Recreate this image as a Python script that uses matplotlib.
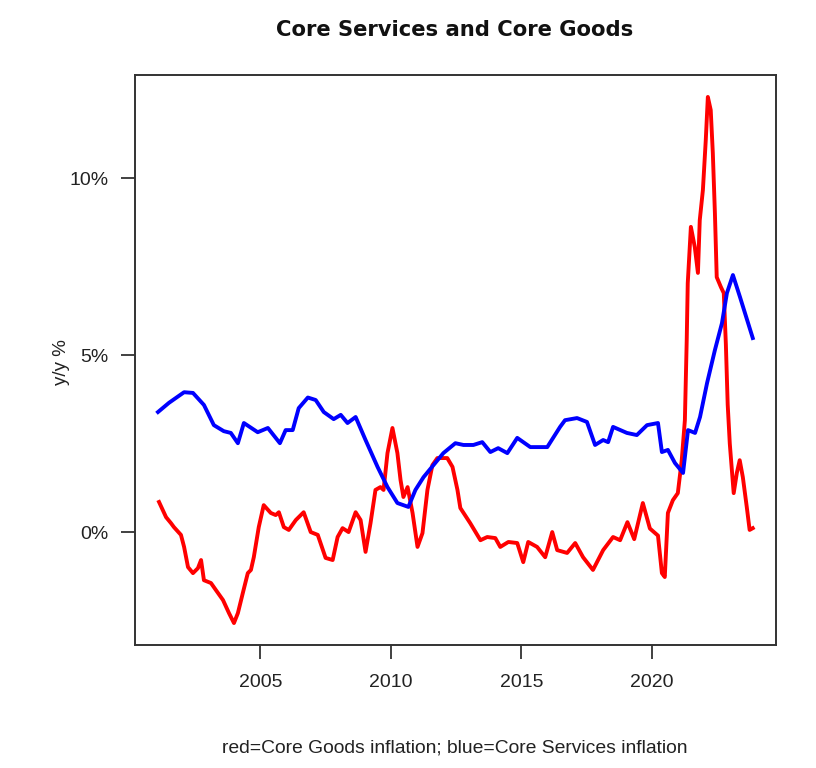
import matplotlib
matplotlib.use("Agg")
import matplotlib.pyplot as plt
from matplotlib.ticker import FixedLocator, FuncFormatter

plt.rcParams['font.family'] = ['Liberation Sans', 'DejaVu Sans']

# Core Services inflation (blue), y/y %
svc_year = [2001.08, 2001.50, 2002.08, 2002.42, 2002.84, 2003.22, 2003.60, 2003.87,
            2004.14, 2004.37, 2004.90, 2005.29, 2005.75, 2005.97, 2006.24, 2006.47,
            2006.82, 2007.12, 2007.43, 2007.81, 2008.08, 2008.34, 2008.65, 2009.03,
            2009.49, 2009.87, 2010.25, 2010.67, 2010.94, 2011.25, 2011.63, 2012.01,
            2012.47, 2012.78, 2013.16, 2013.50, 2013.81, 2014.11, 2014.46, 2014.84,
            2015.34, 2015.99, 2016.48, 2016.67, 2017.13, 2017.51, 2017.82, 2018.13,
            2018.32, 2018.51, 2019.04, 2019.42, 2019.81, 2020.23, 2020.38, 2020.61,
            2020.88, 2021.19, 2021.38, 2021.65, 2021.84, 2022.11, 2022.41, 2022.68,
            2022.87, 2023.10, 2023.37, 2023.56, 2023.86]
svc_val = [3.39, 3.65, 3.95, 3.93, 3.59, 3.02, 2.85, 2.80,
           2.51, 3.08, 2.82, 2.94, 2.51, 2.88, 2.88, 3.50,
           3.80, 3.73, 3.39, 3.19, 3.31, 3.08, 3.25, 2.60,
           1.84, 1.27, 0.82, 0.71, 1.19, 1.55, 1.89, 2.23,
           2.51, 2.46, 2.46, 2.54, 2.26, 2.37, 2.23, 2.66,
           2.40, 2.40, 2.97, 3.16, 3.22, 3.11, 2.46, 2.60,
           2.54, 2.97, 2.80, 2.74, 3.02, 3.08, 2.26, 2.32,
           1.95, 1.67, 2.88, 2.80, 3.25, 4.21, 5.14, 5.90,
           6.75, 7.26, 6.64, 6.19, 5.48]

# Core Goods inflation (red), y/y %
gds_year = [2001.12, 2001.39, 2001.58, 2001.69, 2001.96, 2002.08, 2002.23, 2002.42,
            2002.61, 2002.73, 2002.84, 2003.11, 2003.30, 2003.57, 2003.80, 2003.99,
            2004.14, 2004.33, 2004.52, 2004.64, 2004.75, 2004.94, 2005.13, 2005.40,
            2005.59, 2005.71, 2005.90, 2006.09, 2006.36, 2006.66, 2006.93, 2007.20,
            2007.50, 2007.77, 2007.96, 2008.15, 2008.38, 2008.65, 2008.84, 2009.03,
            2009.22, 2009.41, 2009.60, 2009.72, 2009.87, 2010.06, 2010.25, 2010.37,
            2010.48, 2010.64, 2010.83, 2011.02, 2011.21, 2011.40, 2011.59, 2011.78,
            2012.16, 2012.36, 2012.55, 2012.66, 2013.04, 2013.43, 2013.69, 2014.00,
            2014.19, 2014.50, 2014.84, 2015.07, 2015.26, 2015.60, 2015.91, 2016.18,
            2016.37, 2016.75, 2017.06, 2017.36, 2017.74, 2018.13, 2018.51, 2018.78,
            2019.06, 2019.32, 2019.65, 2019.92, 2020.23, 2020.38, 2020.49, 2020.61,
            2020.80, 2020.99, 2021.14, 2021.26, 2021.33, 2021.37, 2021.49, 2021.64,
            2021.76, 2021.83, 2021.95, 2022.06, 2022.14, 2022.25, 2022.33, 2022.41,
            2022.48, 2022.64, 2022.75, 2022.83, 2022.90, 2022.98, 2023.05, 2023.13,
            2023.25, 2023.36, 2023.48, 2023.63, 2023.74, 2023.86]
gds_val = [0.85, 0.42, 0.25, 0.14, -0.08, -0.42, -0.99, -1.16,
           -1.02, -0.79, -1.36, -1.44, -1.64, -1.92, -2.29, -2.57,
           -2.29, -1.72, -1.16, -1.07, -0.71, 0.14, 0.76, 0.54,
           0.48, 0.56, 0.14, 0.06, 0.34, 0.56, 0.00, -0.08,
           -0.73, -0.79, -0.14, 0.11, 0.00, 0.56, 0.34, -0.56,
           0.25, 1.19, 1.27, 1.19, 2.23, 2.94, 2.23, 1.47,
           0.99, 1.27, 0.54, -0.42, -0.03, 1.19, 1.89, 2.09,
           2.09, 1.84, 1.19, 0.68, 0.25, -0.23, -0.14, -0.17,
           -0.42, -0.28, -0.31, -0.85, -0.28, -0.42, -0.71, 0.00,
           -0.51, -0.59, -0.31, -0.71, -1.07, -0.51, -0.14, -0.23,
           0.28, -0.20, 0.82, 0.10, -0.10, -1.16, -1.27, 0.54,
           0.90, 1.10, 2.03, 3.16, 5.40, 7.03, 8.62, 8.05,
           7.32, 8.81, 9.66, 11.07, 12.29, 11.92, 10.71, 9.01,
           7.20, 6.92, 6.75, 5.30, 3.60, 2.50, 1.84, 1.10,
           1.67, 2.03, 1.55, 0.71, 0.06, 0.11]

y_ticks = [0, 5, 10]
x_ticks = [2005, 2010, 2015, 2020]

title = "Core Services and Core Goods"
ylabel = "y/y %"
caption = "red=Core Goods inflation; blue=Core Services inflation"

W, H = 816, 768
fig = plt.figure(figsize=(W / 100, H / 100), dpi=100)
ax = fig.add_axes([135 / W, 1 - 645 / H, (776 - 135) / W, (645 - 75) / H])

ax.plot(gds_year, gds_val, color="#FF0000", linewidth=2.8, solid_joinstyle="round")
ax.plot(svc_year, svc_val, color="#0000FF", linewidth=2.8, solid_joinstyle="round")

ax.set_xlim(2000.2, 2024.75)
ax.set_ylim(-3.19, 12.91)

ax.xaxis.set_major_locator(FixedLocator(x_ticks))
ax.yaxis.set_major_locator(FixedLocator(y_ticks))
ax.yaxis.set_major_formatter(FuncFormatter(lambda v, p: f"{v:.0f}%"))

for s in ax.spines.values():
    s.set_color("#333333")
    s.set_linewidth(1.4)
ax.tick_params(axis="both", direction="out", length=10, width=1.3, color="#333333",
               labelsize=14, labelcolor="#222222")
ax.tick_params(axis="x", pad=11)
ax.tick_params(axis="y", pad=9)

fig.text(455 / W, 1 - 30 / H, title, ha="center", va="center", fontsize=15.2,
         fontweight="bold", color="#111111", family=["DejaVu Sans"])
fig.text(61 / W, 1 - 362 / H, ylabel, ha="center", va="center", rotation=90,
         fontsize=13.5, color="#222222")
fig.text(455 / W, 1 - 748 / H, caption, ha="center", va="center", fontsize=13.9,
         color="#222222")

fig.savefig("out.png", dpi=100)
